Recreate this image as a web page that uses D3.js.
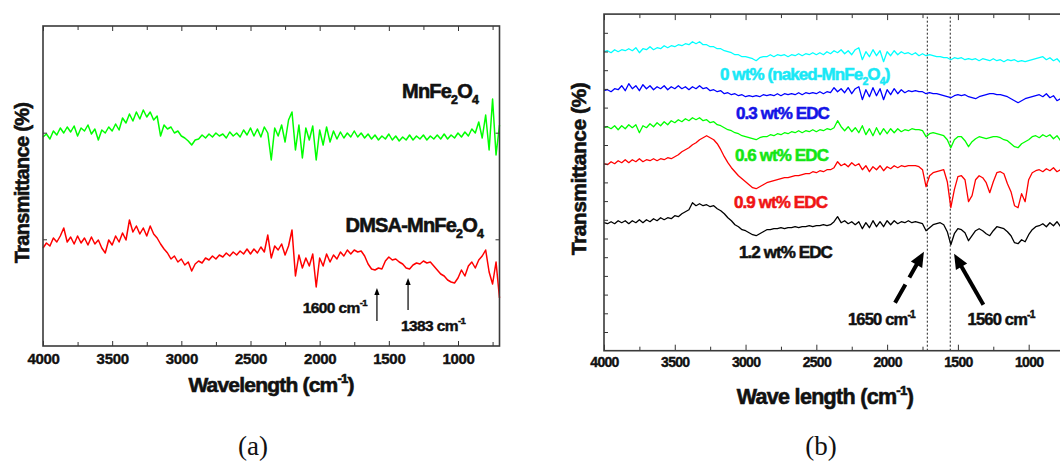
<!DOCTYPE html>
<html lang="en">
<head>
<meta charset="UTF-8" />
<title>FT-IR spectra</title>
<script src="https://d3js.org/d3.v7.min.js"></script>
<style>
  html, body { margin: 0; padding: 0; background: #fff; }
  svg { display: block; }
  text { font-family: "Liberation Sans", Arial, sans-serif; font-weight: bold; }
  text.caption { font-family: "Liberation Serif", "Times New Roman", serif; font-weight: normal; }
</style>
</head>
<body>
<div id="chart"></div>
<script>
// sampling grid (cm-1) shared by every spectrum, 4000 -> 700 in steps of 25
const waveGrid = d3.range(4000, 699, -25);

// ---- panel (a): transmittance, arbitrary units (0..320)
const mnfeA = [
  209, 212, 207, 215, 211, 218, 213, 219, 214, 220,
  210, 218, 215, 221, 212, 217, 206, 216, 213, 219,
  215, 222, 216, 228, 223, 232, 225, 234, 227, 236,
  229, 234, 226, 230, 210, 221, 217, 219, 213, 215,
  210, 208, 205, 201, 206, 207, 211, 208, 212, 209,
  213, 210, 212, 208, 214, 210, 213, 209, 216, 211,
  218, 210, 217, 209, 219, 213, 186, 218, 210, 221,
  204, 226, 234, 196, 221, 188, 218, 206, 220, 186,
  216, 201, 219, 204, 215, 207, 214, 208, 213, 209,
  215, 209, 213, 208, 212, 207, 211, 206, 210, 207,
  212, 206, 210, 205, 209, 206, 211, 206, 210, 207,
  211, 206, 210, 207, 211, 207, 212, 207, 211, 208,
  213, 209, 214, 210, 217, 213, 224, 208, 231, 196,
  247, 191, 221
];
const dmsaA = [
  98, 103, 100, 108, 104, 110, 118, 104, 109, 102,
  110, 103, 108, 101, 109, 102, 106, 98, 93, 106,
  101, 110, 104, 113, 106, 126, 114, 120, 112, 118,
  110, 120, 112, 108, 102, 97, 93, 87, 90, 84,
  87, 81, 84, 75, 82, 85, 83, 88, 86, 90,
  87, 91, 89, 93, 90, 94, 91, 95, 92, 97,
  92, 97, 93, 99, 94, 111, 88, 100, 96, 102,
  91, 100, 116, 70, 91, 78, 88, 80, 92, 59,
  88, 80, 92, 84, 91, 87, 94, 90, 96, 92,
  96, 94, 95, 90, 82, 77, 76, 78, 77, 85,
  89, 86, 87, 84, 82, 78, 77, 81, 83, 82,
  85, 83, 84, 80, 76, 72, 70, 66, 64, 63,
  68, 76, 70, 80, 84, 78, 86, 90, 96, 74,
  62, 84, 48
];

// ---- panel (b): transmittance, arbitrary units (0..336.6)
const edc00 = [
  299, 300, 298, 301, 299, 301, 300, 302, 300, 303,
  298, 302, 301, 304, 301, 303, 302, 305, 303, 305,
  304, 306, 305, 307, 306, 309, 307, 309, 306, 306,
  304, 304, 302, 302, 300, 299, 298, 296, 296, 294,
  294, 293, 292, 290, 293, 294, 294, 296, 294, 296,
  295, 296, 294, 296, 295, 297, 295, 297, 296, 298,
  296, 298, 296, 299, 297, 300, 298, 301, 297, 300,
  296, 301, 303, 291, 299, 294, 301, 295, 300, 289,
  299, 295, 300, 296, 299, 297, 298, 296, 298, 295,
  297, 295, 296, 295, 294, 294, 293, 293, 291, 293,
  292, 293, 291, 292, 291, 292, 290, 292, 291, 290,
  292, 290, 291, 289, 291, 290, 291, 289, 290, 289,
  290, 291, 292, 293, 294, 291, 293, 290, 292, 288,
  291, 287, 289
];
const edc03 = [
  260, 261, 259, 262, 261, 265, 260, 267, 262, 265,
  260, 266, 262, 265, 261, 264, 262, 265, 261, 264,
  262, 265, 262, 264, 261, 264, 262, 265, 262, 263,
  260, 261, 259, 260, 257, 258, 256, 257, 255, 256,
  254, 255, 254, 255, 254, 256, 255, 256, 255, 257,
  255, 257, 256, 257, 256, 258, 256, 258, 257, 258,
  257, 259, 257, 259, 258, 263, 259, 262, 258, 263,
  257, 262, 264, 251, 261, 254, 263, 255, 262, 251,
  261, 256, 262, 257, 261, 258, 260, 259, 260, 259,
  259, 257, 258, 257, 257, 256, 255, 254, 253, 255,
  256, 255, 256, 254, 253, 252, 254, 255, 256, 257,
  257, 256, 256, 255, 254, 252, 250, 248, 250, 252,
  253, 254, 255, 256, 254, 257, 253, 255, 250, 252,
  248, 251, 249
];
const edc06 = [
  223, 224, 222, 225, 221, 225, 222, 226, 223, 226,
  218, 225, 223, 227, 224, 228, 225, 229, 226, 230,
  228, 231, 229, 232, 230, 233, 231, 233, 230, 231,
  228, 229, 226, 225, 223, 221, 220, 218, 217, 215,
  214, 213, 212, 211, 213, 214, 214, 216, 215, 217,
  216, 218, 217, 219, 218, 220, 218, 220, 219, 221,
  219, 221, 220, 222, 221, 223, 230, 224, 220, 224,
  219, 223, 218, 225, 216, 222, 215, 223, 216, 222,
  217, 222, 218, 222, 219, 221, 220, 222, 221, 221,
  220, 214, 217, 218, 217, 216, 215, 211, 203, 211,
  214, 214, 210, 204, 209, 212, 214, 213, 212, 213,
  214, 214, 213, 211, 210, 207, 204, 203, 207, 209,
  211, 214, 215, 213, 216, 214, 216, 212, 215, 210,
  214, 211, 213
];
const edc09 = [
  187, 186, 189, 187, 190, 188, 191, 188, 191, 189,
  192, 189, 191, 190, 192, 190, 192, 191, 193, 192,
  194, 196, 199, 201, 203, 206, 208, 211, 213, 215,
  213, 211, 207, 201, 194, 188, 183, 179, 175, 172,
  169, 166, 163, 162, 164, 166, 168, 169, 170, 171,
  172, 173, 173, 174, 175, 175, 176, 177, 177, 179,
  178, 180, 179, 181, 181, 183, 189, 185, 187, 184,
  188, 185, 187, 181, 185, 179, 184, 181, 185, 180,
  184, 182, 185, 183, 185, 184, 185, 185, 185, 184,
  181, 164, 175, 178, 179, 180, 181, 169, 143, 161,
  174, 175, 171, 149, 155, 171, 175, 173, 168, 158,
  169, 178, 179, 177, 167, 159, 145, 143, 157, 149,
  171, 178, 180, 181, 179, 182, 180, 183, 179, 181,
  178, 180, 179
];
const edc12 = [
  128, 127, 129, 127, 130, 128, 130, 127, 130, 128,
  131, 128, 131, 129, 132, 130, 133, 131, 133, 132,
  135, 134, 137, 139, 141, 148, 145, 147, 145, 146,
  144, 145, 142, 140, 137, 133, 130, 126, 124, 121,
  120, 118, 116, 115, 117, 119, 121, 121, 122, 122,
  123, 122, 123, 123, 124, 123, 124, 124, 125, 124,
  125, 125, 126, 125, 126, 129, 134, 128, 130, 127,
  129, 126, 129, 122, 128, 123, 130, 124, 129, 124,
  130, 126, 130, 127, 129, 128, 130, 128, 129, 128,
  127, 120, 123, 126, 127, 128, 126, 119, 106, 117,
  122, 121, 118, 110, 115, 120, 122, 120, 117, 115,
  120, 124, 123, 122, 119, 115, 108, 107, 111, 109,
  116, 121, 124, 125, 127, 124, 128, 125, 129, 124,
  127, 125, 126
];

const xMajor = [4000, 3500, 3000, 2500, 2000, 1500, 1000];
const xMinor = [3750, 3250, 2750, 2250, 1750, 1250, 750];
const yTicksA = [106.7, 213.3];
const yTicksB = [18.7, 37.4, 56.1, 74.8, 93.5, 112.2, 130.9, 149.6, 168.3, 187, 205.7, 224.4, 243.1, 261.8, 280.5, 299.2, 317.9];

const seriesA = [
  { values: mnfeA, color: "#00ff00" },
  { values: dmsaA, color: "#ff0000" }
];
const seriesB = [
  { values: edc00, color: "#00ffff" },
  { values: edc03, color: "#0000ff" },
  { values: edc06, color: "#00ff00" },
  { values: edc09, color: "#ff0000" },
  { values: edc12, color: "#000000" }
];

// labels: text parts, anchor wavenumber, height
const labelsA = [
  { parts: [["MnFe"], ["2", "sub"], ["O"], ["4", "sub"]], wave: 855, v: 248, anchor: "end", color: "#111" },
  { parts: [["DMSA-MnFe"], ["2", "sub"], ["O"], ["4", "sub"]], wave: 819, v: 114, anchor: "end", color: "#111" }
];
const labelsB = [
  { parts: [["0 wt% (naked-MnFe"], ["2", "sub"], ["O"], ["4", "sub"], [")"]], wave: 3181, v: 271, color: "#19e8f6" },
  { parts: [["0.3 wt% EDC"]], wave: 3068, v: 232, color: "#1414e6" },
  { parts: [["0.6 wt% EDC"]], wave: 3075, v: 190, color: "#14e614" },
  { parts: [["0.9 wt% EDC"]], wave: 3082, v: 143, color: "#f01414" },
  { parts: [["1.2 wt% EDC"]], wave: 3047, v: 93, color: "#111" }
];
// peak annotations
const arrowsA = [
  { wave: 1586, from: 25, to: 58, label: "1600", labelWave: 1658, labelV: 33, anchor: "end" },
  { wave: 1361, from: 36, to: 68, label: "1383", labelWave: 1180, labelV: 15, anchor: "middle" }
];
const dottedB = [1716, 1554];
const arrowsB = [
  { w0: 1944, v0: 48, w1: 1740, v1: 99, dash: "21 8", label: "1650", labelWave: 2040, labelV: 26 },
  { w0: 1320, v0: 46, w1: 1527, v1: 97, dash: null, label: "1560", labelWave: 1195, labelV: 26 }
];

const svg = d3.select("#chart").append("svg")
  .attr("width", 1060).attr("height", 461);

// bold-ish text: fill plus a thin stroke of the same colour
function ink(sel, color, sw) {
  return sel.style("fill", color).style("stroke", color).style("stroke-width", sw + "px");
}

function addRich(sel, parts, fs) {
  let shift = 0;
  parts.forEach(([str, kind]) => {
    const target = kind === "sup" ? -0.42 * fs : kind === "sub" ? 0.3 * fs : 0;
    sel.append("tspan")
      .attr("dy", target - shift)
      .attr("font-size", kind ? fs * 0.62 : fs)
      .text(str);
    shift = target;
  });
}

function drawArrow(g, x0, y0, x1, y1, o) {
  const len = Math.hypot(x1 - x0, y1 - y0);
  const ux = (x1 - x0) / len, uy = (y1 - y0) / len;
  const bx = x1 - ux * o.head, by = y1 - uy * o.head;
  g.append("line")
    .attr("x1", x0).attr("y1", y0)
    .attr("x2", x1 - ux * o.head * 0.6).attr("y2", y1 - uy * o.head * 0.6)
    .attr("stroke", "#000").attr("stroke-width", o.width)
    .attr("stroke-dasharray", o.dash || null);
  g.append("path")
    .attr("d", `M${x1},${y1}L${bx - uy * o.half},${by + ux * o.half}L${bx + uy * o.half},${by - ux * o.half}Z`)
    .attr("fill", "#000");
}

function drawFrame(x, y, o) {
  const [xl, xr] = x.range();
  const [yb, yt] = y.range();
  const noDomain = g => g.select(".domain").remove();

  // bottom axis with labels
  const bottom = svg.append("g").attr("transform", `translate(0,${yb})`)
    .attr("color", "#333")
    .call(d3.axisBottom(x).tickValues(xMajor).tickSize(-o.major).tickSizeOuter(0)
      .tickPadding(o.pad).tickFormat(d3.format("d")))
    .call(noDomain);
  bottom.selectAll("text").attr("font-size", o.tickFont)
    .call(ink, "#111", 0.4)
    .style("letter-spacing", o.tickSpacing + "px");
  svg.append("g").attr("transform", `translate(0,${yb})`).attr("color", "#333")
    .call(d3.axisBottom(x).tickValues(xMinor).tickSize(-o.minor).tickSizeOuter(0).tickFormat(""))
    .call(noDomain);
  // top axis, ticks only
  svg.append("g").attr("transform", `translate(0,${yt})`).attr("color", "#333")
    .call(d3.axisTop(x).tickValues(xMajor).tickSize(-o.major).tickSizeOuter(0).tickFormat(""))
    .call(noDomain);
  svg.append("g").attr("transform", `translate(0,${yt})`).attr("color", "#333")
    .call(d3.axisTop(x).tickValues(xMinor).tickSize(-o.minor).tickSizeOuter(0).tickFormat(""))
    .call(noDomain);
  // left axis, inward ticks
  svg.append("g").attr("transform", `translate(${xl},0)`).attr("color", "#333")
    .call(d3.axisRight(y).tickValues(o.yTicks).tickSize(4).tickSizeOuter(0).tickFormat(""))
    .call(noDomain);
  if (o.rightAxis) {
    svg.append("g").attr("transform", `translate(${xr},0)`).attr("color", "#333")
      .call(d3.axisLeft(y).tickValues(o.yTicks).tickSize(4).tickSizeOuter(0).tickFormat(""))
      .call(noDomain);
  }
  svg.append("rect")
    .attr("x", xl).attr("y", yt)
    .attr("width", xr - xl).attr("height", yb - yt)
    .attr("fill", "none").attr("stroke", "#3a3a3a").attr("stroke-width", 1.6);
}

function drawSpectra(x, y, list, width) {
  const line = d3.line()
    .x((d, i) => x(waveGrid[i]))
    .y(d => y(d));
  svg.append("g").selectAll("path")
    .data(list)
    .join("path")
    .attr("fill", "none")
    .attr("stroke", d => d.color)
    .attr("stroke-width", width)
    .attr("stroke-linejoin", "round")
    .attr("d", d => line(d.values));
}

// ---------------- panel (a)
const xA = d3.scaleLinear().domain([4000, 700]).range([43, 499.5]);
const yA = d3.scaleLinear().domain([0, 320]).range([346, 26]);

drawSpectra(xA, yA, seriesA, 1.5);
drawFrame(xA, yA, { major: 5, minor: 4, pad: 7.5, tickFont: 15, tickSpacing: -0.3, yTicks: yTicksA, rightAxis: true });

labelsA.forEach(l => {
  const t = svg.append("text")
    .attr("x", xA(l.wave)).attr("y", yA(l.v))
    .attr("text-anchor", l.anchor)
    .style("letter-spacing", "-0.8px")
    .call(ink, l.color, 0.6);
  addRich(t, l.parts, 20);
});

arrowsA.forEach(a => {
  drawArrow(svg, xA(a.wave), yA(a.from), xA(a.wave), yA(a.to), { width: 1.2, head: 7, half: 2.6 });
  const t = svg.append("text")
    .attr("x", xA(a.labelWave)).attr("y", yA(a.labelV))
    .attr("text-anchor", a.anchor)
    .style("letter-spacing", "-0.6px")
    .call(ink, "#111", 0.45);
  addRich(t, [[a.label + " cm"], ["-1", "sup"]], 15.5);
});

svg.append("text")
  .attr("x", 271).attr("y", 392)
  .attr("text-anchor", "middle")
  .style("letter-spacing", "-0.8px")
  .call(ink, "#111", 0.6)
  .call(t => addRich(t, [["Wavelength (cm"], ["-1", "sup"], [")"]], 21));

svg.append("text")
  .attr("transform", "translate(29,183) rotate(-90)")
  .attr("text-anchor", "middle")
  .attr("font-size", 20)
  .style("letter-spacing", "-0.7px")
  .call(ink, "#111", 0.6)
  .text("Transmittance (%)");

svg.append("text").attr("class", "caption")
  .attr("x", 253).attr("y", 455)
  .attr("text-anchor", "middle")
  .attr("font-size", 27)
  .style("fill", "#111")
  .text("(a)");

// ---------------- panel (b)
const xB = d3.scaleLinear().domain([4000, 650]).range([604, 604 + 3350 * 0.14156]);
const yB = d3.scaleLinear().domain([0, 336.6]).range([350.7, 14.1]);

svg.append("g").selectAll("line")
  .data(dottedB)
  .join("line")
  .attr("x1", d => xB(d)).attr("x2", d => xB(d))
  .attr("y1", yB(0)).attr("y2", yB(336.6))
  .attr("stroke", "#222").attr("stroke-width", 1)
  .attr("stroke-dasharray", "2 2");

drawSpectra(xB, yB, seriesB, 1.3);
drawFrame(xB, yB, { major: 6, minor: 4, pad: 6.7, tickFont: 14, tickSpacing: -0.7, yTicks: yTicksB, rightAxis: false });

labelsB.forEach(l => {
  const t = svg.append("text")
    .attr("x", xB(l.wave)).attr("y", yB(l.v))
    .style("letter-spacing", "-0.9px")
    .call(ink, l.color, 0.55);
  addRich(t, l.parts, 17);
});

arrowsB.forEach(a => {
  drawArrow(svg, xB(a.w0), yB(a.v0), xB(a.w1), yB(a.v1), { width: 4, head: 15, half: 6.5, dash: a.dash });
  const t = svg.append("text")
    .attr("x", xB(a.labelWave)).attr("y", yB(a.labelV))
    .attr("text-anchor", "middle")
    .style("letter-spacing", "-0.8px")
    .call(ink, "#111", 0.5);
  addRich(t, [[a.label + " cm"], ["-1", "sup"]], 16.5);
});

svg.append("text")
  .attr("x", 825).attr("y", 404)
  .attr("text-anchor", "middle")
  .style("letter-spacing", "-0.7px")
  .call(ink, "#111", 0.6)
  .call(t => addRich(t, [["Wave length (cm"], ["-1", "sup"], [")"]], 21.5));

svg.append("text")
  .attr("transform", "translate(586,169) rotate(-90)")
  .attr("text-anchor", "middle")
  .attr("font-size", 21)
  .style("letter-spacing", "-0.5px")
  .call(ink, "#111", 0.6)
  .text("Transmittance (%)");

svg.append("text").attr("class", "caption")
  .attr("x", 821).attr("y", 455)
  .attr("text-anchor", "middle")
  .attr("font-size", 27)
  .style("fill", "#111")
  .text("(b)");
</script>
</body>
</html>
